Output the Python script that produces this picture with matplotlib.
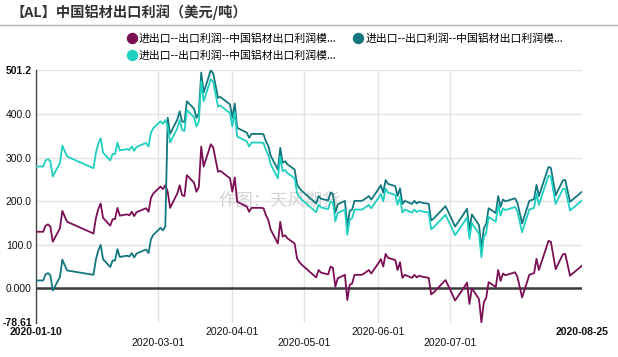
import matplotlib
matplotlib.use("Agg")
import matplotlib.pyplot as plt
from matplotlib.lines import Line2D
from datetime import datetime

# trading days (MM-DD, 2020)
days = [
    "01-10", "01-13", "01-14", "01-15", "01-16", "01-17", "01-20", "01-21", "01-22", "01-23",
    "02-03", "02-04", "02-05", "02-06", "02-07", "02-10", "02-11", "02-12", "02-13", "02-14",
    "02-17", "02-18", "02-19", "02-20", "02-21", "02-24", "02-25", "02-26", "02-27", "02-28",
    "03-02", "03-03", "03-04", "03-05", "03-06", "03-09", "03-10", "03-11", "03-12", "03-13",
    "03-16", "03-17", "03-18", "03-19", "03-20", "03-23", "03-24", "03-26", "03-27", "03-30", "03-31",
    "04-01", "04-02", "04-03", "04-07", "04-08", "04-09", "04-10", "04-13", "04-14", "04-15",
    "04-16", "04-17", "04-20", "04-21", "04-22", "04-23", "04-24", "04-27", "04-28", "04-29", "04-30",
    "05-06", "05-07", "05-08", "05-11", "05-12", "05-13", "05-14", "05-15", "05-18", "05-19",
    "05-20", "05-21", "05-22", "05-25", "05-26", "05-27", "05-28", "05-29",
    "06-01", "06-02", "06-03", "06-04", "06-05", "06-08", "06-09", "06-10", "06-11", "06-12",
    "06-15", "06-16", "06-17", "06-18", "06-19", "06-22", "06-23", "06-24", "06-29",
    "07-01", "07-03", "07-06", "07-08", "07-09", "07-10", "07-13", "07-14", "07-15", "07-16",
    "07-17", "07-20", "07-21", "07-22", "07-23", "07-24", "07-27", "07-28", "07-29", "07-31",
    "08-03", "08-04", "08-05", "08-06", "08-07", "08-11", "08-12", "08-14", "08-17", "08-18",
    "08-20", "08-25",
]

purple = [
    130, 130, 144, 147, 142, 107, 138, 178, 165, 153,
    126, 161, 182, 195, 162, 144, 159, 159, 185, 167,
    170, 168, 176, 166, 175, 182, 184, 176, 208, 218,
    234, 228, 237, 222, 185, 218, 237, 214, 212, 260,
    243, 222, 233, 326, 280, 331.2, 324, 268, 270, 257, 253,
    222, 255, 199, 188, 176, 185, 185, 185, 184, 168,
    157, 135, 103, 153, 119, 122, 115, 103, 69, 60, 54,
    25, 42, 36, 32, 50, 47, 4, 23, 31, -27,
    8, 11, 31, 31, 34, 38, 42, 34,
    58, 67, 50, 79, 70, 65, 42, 60, 24, 31,
    24, 31, 25, 29, 27, 24, -14, -10, 19,
    -4, -28, -4, 13, -36, 0, -25, -78.61, -32, -22,
    14, 3, 42, 17, 34, 30, 35, 37, 27, -21,
    31, 33, 35, 68, 42, 109, 107, 44, 78, 79,
    29, 52,
]

teal = [
    18, 18, 32, 35, 30, -5, 26, 66, 53, 41,
    31, 66, 87, 100, 67, 49, 64, 64, 90, 72,
    75, 73, 81, 71, 80, 87, 89, 81, 113, 123,
    139, 133, 142, 392, 355, 388, 407, 384, 382, 430,
    413, 392, 403, 496, 450, 501.2, 494, 438, 440, 427, 423,
    392, 425, 369, 358, 346, 355, 355, 355, 354, 338,
    327, 305, 273, 323, 289, 292, 285, 273, 239, 230, 224,
    195, 212, 206, 202, 220, 217, 174, 193, 201, 143,
    178, 181, 201, 201, 204, 208, 212, 204,
    228, 237, 220, 249, 240, 235, 212, 230, 194, 201,
    194, 201, 195, 199, 197, 194, 156, 160, 189,
    166, 142, 166, 183, 134, 170, 145, 91.4, 138, 148,
    184, 173, 212, 187, 204, 200, 205, 207, 197, 149,
    201, 203, 205, 238, 212, 279, 277, 214, 248, 249,
    199, 222,
]

cyan = [
    280, 280, 294, 297, 292, 257, 288, 328, 315, 303,
    276, 311, 332, 345, 312, 294, 309, 309, 335, 317,
    320, 318, 326, 316, 325, 332, 334, 326, 358, 368,
    384, 378, 387, 372, 335, 368, 387, 364, 362, 410,
    393, 372, 383, 476, 430, 481, 474, 418, 420, 407, 403,
    372, 405, 349, 338, 326, 335, 335, 335, 334, 318,
    307, 285, 253, 303, 269, 272, 265, 253, 219, 210, 204,
    175, 192, 186, 182, 200, 197, 154, 173, 181, 123,
    158, 161, 181, 181, 184, 188, 192, 184,
    208, 217, 200, 229, 220, 215, 192, 210, 174, 181,
    174, 181, 175, 179, 177, 174, 136, 140, 169,
    146, 122, 146, 163, 114, 150, 125, 71.4, 118, 128,
    164, 153, 192, 167, 184, 180, 185, 187, 177, 129,
    181, 183, 185, 218, 192, 259, 257, 194, 228, 229,
    179, 202,
]

series_label = "进出口--出口利润--中国铝材出口利润模..."
title = "【AL】中国铝材出口利润（美元/吨）"
watermark = "作图：天风期货"

y_ticks = [-78.61, 0, 100, 200, 300, 400, 501.2]
y_labels = ["-78.61", "0.000", "100.0", "200.0", "300.0", "400.0", "501.2"]
x_row1 = ["2020-01-10", "2020-04-01", "2020-06-01", "2020-08-25"]
x_row2 = ["2020-03-01", "2020-05-01", "2020-07-01"]
month_grid = ["2020-03-01", "2020-04-01", "2020-05-01", "2020-06-01", "2020-07-01"]

c_purple = "#7b0f54"
c_teal = "#13777e"
c_cyan = "#1fd0c0"

dates = [datetime.strptime("2020-" + d, "%Y-%m-%d") for d in days]
to_dt = lambda s: datetime.strptime(s, "%Y-%m-%d")

cjk = ["Noto Sans CJK SC", "DejaVu Sans"]
plt.rcParams["font.family"] = ["Liberation Sans", "DejaVu Sans"]

W, H = 618, 357
fig = plt.figure(figsize=(W / 100, H / 100), dpi=100)
ax = fig.add_axes([36 / W, 1 - 322.5 / H, 546 / W, (322.5 - 70.3) / H])

ax.set_xlim(to_dt("2020-01-10"), to_dt("2020-08-25"))
ax.set_ylim(-78.61, 501.2)

for v in [100, 200, 300, 400, 501.2]:
    ax.axhline(v, color="#e3e3e3", lw=1, zorder=0)
for d in month_grid:
    ax.axvline(to_dt(d), color="#e3e3e3", lw=1, zorder=0)
ax.axhline(0, color="#3a3a3a", lw=1.8, zorder=1)

ax.text(0.445, 0.485, watermark, transform=ax.transAxes, family=cjk,
        fontsize=12.5, color="#d4d4d4", ha="center", va="center", zorder=0.5)

ax.plot(dates, purple, color=c_purple, lw=1.3, zorder=3)
ax.plot(dates, teal, color=c_teal, lw=1.3, zorder=3)
ax.plot(dates, cyan, color=c_cyan, lw=1.3, zorder=3)

for s in ["top", "right", "bottom"]:
    ax.spines[s].set_visible(False)
ax.spines["left"].set_color("#444444")
ax.spines["left"].set_linewidth(1)

ax.set_yticks(y_ticks)
ax.set_yticklabels(y_labels)
ax.tick_params(axis="y", length=0, pad=3, labelsize=7.5, labelcolor="#111111")
for lab in ax.get_yticklabels():
    if lab.get_text() in ("-78.61", "501.2"):
        lab.set_fontweight("bold")

ax.set_xticks([to_dt(d) for d in x_row1])
ax.set_xticklabels(x_row1)
ax.set_xticks([to_dt(d) for d in x_row2], minor=True)
ax.set_xticklabels(x_row2, minor=True)
ax.tick_params(axis="x", which="major", length=0, pad=3.5, labelsize=7.5, labelcolor="#111111")
ax.tick_params(axis="x", which="minor", length=0, pad=11.5, labelsize=7.5, labelcolor="#111111")
for lab in ax.get_xticklabels():
    if lab.get_text() in ("2020-01-10", "2020-08-25"):
        lab.set_fontweight("bold")

fig.text(10 / W, 1 - 12 / H, title, family=cjk, fontsize=10.3, fontweight="bold",
         color="#333333", ha="left", va="center")
fig.add_artist(Line2D([0, 1], [1 - 25 / H, 1 - 25 / H], color="#b5b5b5", lw=1,
                      transform=fig.transFigure))

handles = [Line2D([], [], marker="o", ls="none", ms=7.2, color=c) for c in (c_purple, c_cyan, c_teal)]
fig.legend(handles, [series_label] * 3, ncol=2, loc="upper left",
           bbox_to_anchor=(127.5 / W, 1 - 33 / H), frameon=False,
           prop={"family": cjk, "size": 7.8}, handlelength=0.8, handletextpad=0.25,
           columnspacing=1.6, labelspacing=0.63, borderpad=0, borderaxespad=0)

fig.savefig("out.png", dpi=100)
